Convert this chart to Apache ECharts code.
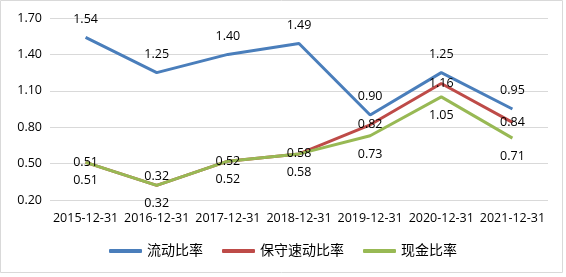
<!DOCTYPE html>
<html>
<head>
<meta charset="utf-8">
<script src="https://cdn.jsdelivr.net/npm/echarts@6/dist/echarts.min.js"></script>
<style>
  html, body { margin: 0; padding: 0; background: #fff; }
  #main { width: 566px; height: 277px; }
</style>
</head>
<body>
<div id="main"></div>
<script>
var dates = ['2015-12-31', '2016-12-31', '2017-12-31', '2018-12-31', '2019-12-31', '2020-12-31', '2021-12-31'];
var currentRatio = [1.54, 1.25, 1.40, 1.49, 0.90, 1.25, 0.95];
var quickRatio = [0.51, 0.32, 0.52, 0.58, 0.82, 1.16, 0.84];
var cashRatio = [0.51, 0.32, 0.52, 0.58, 0.73, 1.05, 0.71];

var font = "'Open Sans', 'Noto Sans CJK SC', sans-serif";
var chart = echarts.init(document.getElementById('main'));

function makeSeries(name, data, color, pos) {
    return {
        name: name,
        type: 'line',
        data: data,
        symbol: 'circle',
        symbolSize: 0.1,
        showSymbol: true,
        lineStyle: { color: color, width: 3 },
        itemStyle: { color: color },
        label: {
            show: true,
            position: pos,
            distance: 12,
            color: '#000',
            fontSize: 12.5,
            fontFamily: font,
            formatter: function (p) { return p.value.toFixed(2); }
        }
    };
}

// the 2016 label of 保守速动比率 sits a bit above its point in the original
var quickData = quickRatio.map(function (v, i) {
    return i === 1 ? { value: v, label: { position: 'top', distance: 3 } } : v;
});

option = {
    animation: false,
    textStyle: { fontFamily: font },
    grid: { left: 50, right: 18, top: 18, bottom: 77 },
    graphic: [{
        type: 'rect',
        shape: { x: 0.5, y: 0.5, width: 562, height: 272 },
        style: { fill: 'none', stroke: '#d9d9d9', lineWidth: 1 },
        silent: true
    }],
    legend: {
        top: 239,
        left: 'center',
        icon: 'roundRect',
        itemWidth: 33,
        itemHeight: 4,
        itemGap: 19,
        textStyle: { fontSize: 14, color: '#000', fontFamily: font },
        data: ['流动比率', '保守速动比率', '现金比率']
    },
    xAxis: {
        type: 'category',
        data: dates,
        axisLine: { show: false },
        axisTick: { show: false },
        axisLabel: { color: '#000', fontSize: 12.5, interval: 0, margin: 12 }
    },
    yAxis: {
        type: 'value',
        min: 0.2,
        max: 1.7,
        interval: 0.3,
        axisLine: { show: false },
        axisTick: { show: false },
        axisLabel: { color: '#000', fontSize: 12.5, formatter: function (v) { return v.toFixed(2); } },
        splitLine: { lineStyle: { color: '#d9d9d9' } }
    },
    series: [
        makeSeries('流动比率', currentRatio, '#4A7EBB', 'top'),
        makeSeries('保守速动比率', quickData, '#BE4B48', 'inside'),
        makeSeries('现金比率', cashRatio, '#98B954', 'bottom')
    ]
};
chart.setOption(option);
</script>
</body>
</html>
